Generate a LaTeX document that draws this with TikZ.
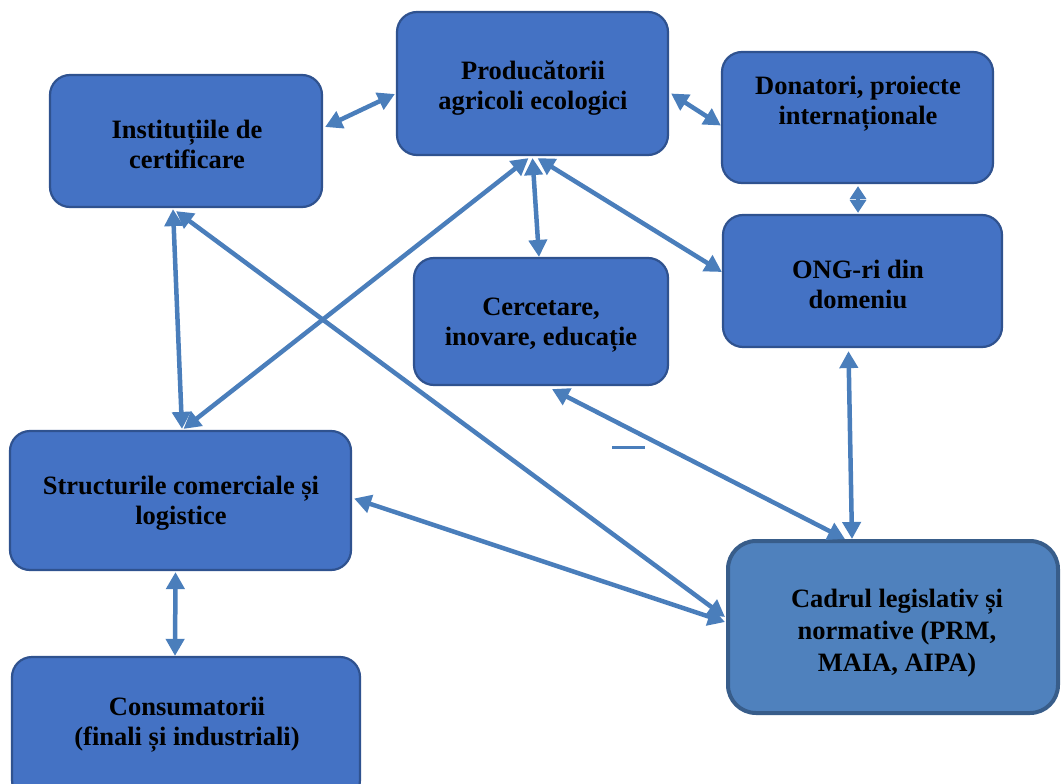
\documentclass[tikz,border=0pt]{standalone}
\usepackage{fontspec}
\setmainfont{Liberation Serif}
\usetikzlibrary{arrows.meta,calc}
\definecolor{boxfill}{HTML}{4472C4}
\definecolor{boxline}{HTML}{2F528F}
\definecolor{cadfill}{HTML}{4F81BD}
\definecolor{cadline}{HTML}{385D8A}
\definecolor{arrcol}{HTML}{4A7EBB}
\begin{document}
\begin{tikzpicture}[x=1pt,y=-1pt,
  box/.style={draw=boxline, line width=2.2pt, fill=boxfill, rounded corners=20pt, inner sep=0pt},
  cadbox/.style={draw=cadline, line width=4pt, fill=cadfill, rounded corners=28pt, inner sep=0pt},
  txt/.style={font=\fontsize{26.5}{30}\selectfont\bfseries, align=center, text=black, inner sep=0pt},
  cadtxt/.style={font=\fontsize{26.5}{32}\selectfont\bfseries, align=center, text=black, inner sep=0pt},
  arr/.style={draw=arrcol, line width=4.5pt, {Triangle[length=17pt,width=18pt]}-{Triangle[length=17pt,width=18pt]}},
  shortarr/.style={draw=arrcol, line width=4.5pt, {Triangle[length=13pt,width=16pt]}-{Triangle[length=13pt,width=16pt]}},
  mark line/.style={draw=arrcol, line width=3pt}]
\useasboundingbox (0,0) rectangle (1061,784);

% boxes
\node[box, minimum width=271pt, minimum height=143pt] (prod) at (532.5,83.5) {};
\node[box, minimum width=272pt, minimum height=132pt] (inst) at (186,141) {};
\node[box, minimum width=271pt, minimum height=131pt] (don) at (857.5,117.5) {};
\node[box, minimum width=279pt, minimum height=132pt] (ong) at (862.5,281) {};
\node[box, minimum width=254pt, minimum height=127pt] (cerc) at (541,321.5) {};
\node[box, minimum width=341pt, minimum height=139pt] (struct) at (180.5,500.5) {};
\node[box, minimum width=348pt, minimum height=143pt] (cons) at (186,728.5) {};
\node[cadbox, minimum width=330pt, minimum height=172pt] (cad) at (893,627) {};

% texts
\node[txt] (prodt) at (533,88) {Producătorii\\agricoli ecologici};
\node[txt] (instt) at (187,144) {Instituțiile de\\certificare};
\node[txt] (dont) at (858,104) {Donatori, proiecte\\internaționale};
\node[txt] (ongt) at (858,284) {ONG-ri din\\domeniu};
\node[txt] (cerct) at (541,325) {Cercetare,\\inovare, educație};
\node[txt] (structt) at (181,503) {Structurile comerciale și\\logistice};
\node[txt] (const) at (187,725) {Consumatorii\\(finali și industriali)};
\node[cadtxt] (cadt) at (897,633) {Cadrul legislativ și\\normative (PRM,\\MAIA, AIPA)};

% connectors
\draw[arr] ($(inst.east)+(2,-14)$) -- ($(prod.west)+(-1,10.5)$);
\draw[arr] ($(prod.east)+(2,10)$) -- ($(don.west)+(0,8)$);
\draw[shortarr] ($(don.south)+(0.5,2)$) -- ($(ong.north)+(-4.5,-1)$);
\draw[arr] ($(prod.south)+(-4,2)$) -- ($(struct.north)+(3,-1)$);
\draw[arr] ($(prod.south)+(0,2)$) -- ($(cerc.north)+(-2,0)$);
\draw[arr] ($(prod.south)+(5,2)$) -- ($(ong.west)+(0,-9)$);
\draw[arr] ($(inst.south)+(-13,1)$) -- ($(struct.north)+(1.5,-1)$);
\draw[arr] ($(inst.south)+(-10,3)$) -- ($(cad.west)+(-1,-10)$);
\draw[arr] ($(struct.east)+(2,-2)$) -- ($(cad.west)+(-1,-5)$);
\draw[arr] ($(cerc.south)+(11,3)$) -- ($(cad.north)+(-48,0)$);
\draw[arr] ($(ong.south)+(-14,3)$) -- ($(cad.north)+(-41,0)$);
\draw[arr] ($(struct.south)+(-5,1)$) -- ($(cons.north)+(-11,0)$);

% stray mark
\coordinate (m1) at (612,447);
\coordinate (m2) at (645,447);
\draw[mark line] (m1) -- (m2);
\end{tikzpicture}
\end{document}
